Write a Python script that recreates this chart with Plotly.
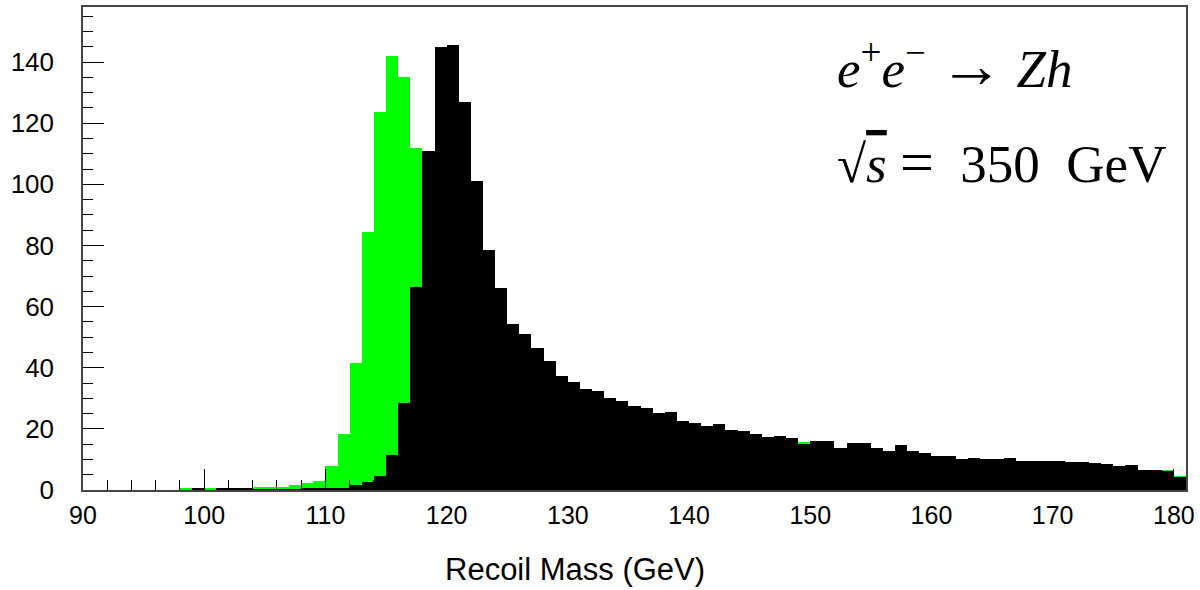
import plotly.graph_objects as go

# Histogram bins: left edges of 1-GeV bins from 90 to 181 GeV
bin_left = list(range(90, 181))

# Black histogram (drawn on top)
black_counts = [
    0, 0, 0, 0, 0, 0, 0, 0, 0, 0.5,          # 90-99
    0, 0.5, 0.5, 0.5, 0.3, 0.3, 0.3, 0.3, 0.5, 0.5,   # 100-109
    0.7, 0.8, 1.6, 2.7, 4.6, 11.4, 28.4, 66.4, 110.8, 145.0,  # 110-119
    145.6, 126.8, 101.0, 78.6, 66.1, 54.4, 51.0, 46.4, 42.1, 37.4,  # 120-129
    35.3, 33.1, 32.4, 30.2, 29.2, 27.5, 26.9, 25.2, 25.5, 22.6,  # 130-139
    21.9, 20.8, 21.5, 19.7, 19.3, 18.2, 17.2, 17.8, 16.9, 15.1,  # 140-149
    16.0, 16.0, 13.9, 15.4, 15.4, 13.6, 12.8, 14.6, 12.8, 12.1,  # 150-159
    11.1, 11.1, 10.3, 10.6, 10.3, 10.3, 10.6, 9.5, 9.5, 9.5,    # 160-169
    9.5, 9.2, 9.2, 8.8, 8.6, 7.8, 8.1, 6.7, 6.7, 6.3,           # 170-179
    4.1,                                                          # 180
]

# Green histogram (drawn underneath)
green_counts = [
    0, 0, 0, 0, 0, 0, 0, 0, 0.5, 0.3,        # 90-99
    0.5, 0.3, 0.3, 0.3, 1.0, 1.0, 0.9, 1.5, 2.4, 3.0,   # 100-109
    7.8, 18.2, 41.5, 84.3, 123.6, 142.0, 135.2, 112.0, 110.8, 145.0,  # 110-119
    145.6, 126.8, 101.0, 78.6, 66.1, 54.4, 51.0, 46.4, 42.1, 37.4,  # 120-129
    35.3, 33.1, 32.4, 30.2, 29.2, 27.5, 26.9, 25.2, 25.5, 22.6,  # 130-139
    21.9, 20.8, 21.5, 19.7, 19.3, 18.2, 17.2, 17.8, 16.9, 15.7,  # 140-149
    16.0, 16.0, 13.9, 15.4, 15.4, 13.6, 12.8, 14.6, 12.8, 12.1,  # 150-159
    11.1, 11.1, 10.3, 10.6, 10.3, 10.3, 10.6, 9.5, 9.5, 9.5,    # 160-169
    9.5, 9.2, 9.2, 8.8, 8.6, 7.8, 8.1, 6.7, 6.7, 6.7,           # 170-179
    4.5,                                                          # 180
]

x_tickvals = [90, 100, 110, 120, 130, 140, 150, 160, 170, 180]
y_tickvals = [0, 20, 40, 60, 80, 100, 120, 140]

fig = go.Figure()
fig.add_trace(go.Bar(x=bin_left, y=green_counts, width=1, offset=0,
                     marker=dict(color="#00ff00", line=dict(width=0))))
fig.add_trace(go.Bar(x=bin_left, y=black_counts, width=1, offset=0,
                     marker=dict(color="#000000", line=dict(width=0))))

sans = "Liberation Sans, Arial, sans-serif"
serif = "Liberation Serif, Times New Roman, serif"

fig.update_layout(
    width=1200, height=590,
    margin=dict(l=83, r=10, t=5, b=100),
    barmode="overlay", bargap=0,
    showlegend=False,
    plot_bgcolor="white", paper_bgcolor="white",
    font=dict(family=sans, color="black"),
)
fig.update_xaxes(
    range=[90, 181],
    tickmode="array", tickvals=x_tickvals,
    ticks="inside", ticklen=21, tickwidth=1, tickcolor="black",
    minor=dict(dtick=2, tick0=90, ticks="inside", ticklen=10, tickwidth=1, tickcolor="black"),
    showline=True, linecolor="#444", linewidth=1.5, mirror=True,
    showgrid=False, zeroline=False,
    tickfont=dict(family=sans, size=25, color="black"),
    ticklabelstandoff=2,
)
fig.update_yaxes(
    range=[0, 158],
    tickmode="array", tickvals=y_tickvals,
    ticks="inside", ticklen=21, tickwidth=1, tickcolor="black",
    minor=dict(dtick=5, tick0=0, ticks="inside", ticklen=10, tickwidth=1, tickcolor="black"),
    showline=True, linecolor="#444", linewidth=1.5, mirror=True,
    showgrid=False, zeroline=False,
    tickfont=dict(family=sans, size=26, color="black"),
    ticklabelstandoff=22,
)

# x-axis title (placed as in the reference, left of the plot centre)
fig.add_annotation(
    xref="paper", yref="paper", x=0.446, y=-0.165, xanchor="center", yanchor="middle",
    text="Recoil Mass (GeV)", showarrow=False,
    font=dict(family=sans, size=31, color="black"),
)

sp = "\u2002"
fig.add_annotation(
    xref="paper", yref="paper", x=0.682, y=0.878, xanchor="left", yanchor="middle",
    text="<i>e</i><sup>+</sup><i>e</i><sup>\u2212</sup> "
         "<span style='font-size:64px'>\u2192</span> <i>Zh</i>",
    showarrow=False, font=dict(family=serif, size=53, color="black"),
)
fig.add_annotation(
    xref="paper", yref="paper", x=0.682, y=0.68, xanchor="left", yanchor="middle",
    text="\u221a<span style='text-decoration:overline'><i>s</i></span> "
         "<span style='font-size:60px'>=</span>" + sp + "350" + sp + "GeV",
    showarrow=False, font=dict(family=serif, size=53, color="black"),
)

fig.write_html("out.html")
